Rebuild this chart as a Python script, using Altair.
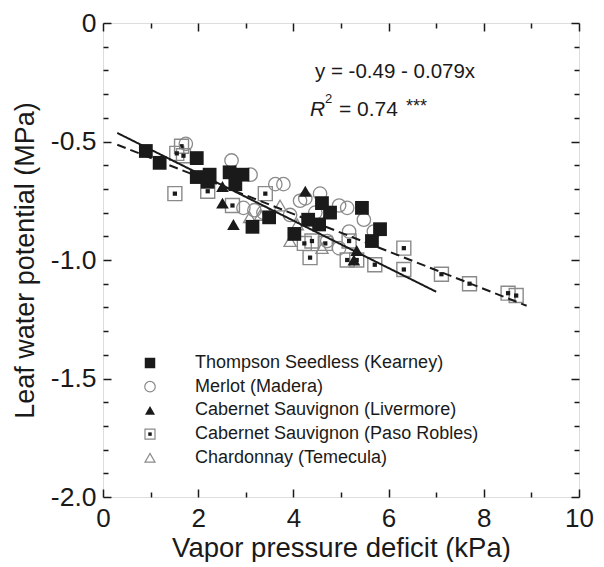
import altair as alt
import pandas as pd

FONT = "Liberation Sans"
INK = "#1a1a1a"
GRAY = "#8a8a8a"
W = 476
H = 474

series_names = [
    "Thompson Seedless (Kearney)",
    "Merlot (Madera)",
    "Cabernet Sauvignon (Livermore)",
    "Cabernet Sauvignon (Paso Robles)",
    "Chardonnay (Temecula)",
]

# Thompson Seedless (Kearney)
ts_vpd = [0.90, 1.19, 1.97, 1.97, 2.24, 2.20, 2.66, 2.93, 2.78, 3.14, 3.49, 4.02, 4.31, 4.54, 4.60, 4.77, 5.44, 5.65, 5.82]
ts_lwp = [-0.54, -0.59, -0.57, -0.65, -0.64, -0.67, -0.63, -0.64, -0.68, -0.86, -0.82, -0.89, -0.83, -0.85, -0.76, -0.80, -0.78, -0.92, -0.87]

# Merlot (Madera)
me_vpd = [1.74, 2.70, 3.10, 3.62, 3.79, 2.95, 3.18, 3.37, 4.14, 4.56, 4.25, 4.96, 5.13, 5.48, 4.46, 3.93, 5.17, 4.71, 4.96, 5.69]
me_lwp = [-0.51, -0.58, -0.64, -0.68, -0.68, -0.78, -0.79, -0.80, -0.75, -0.72, -0.74, -0.77, -0.78, -0.83, -0.80, -0.81, -0.88, -0.92, -0.95, -0.88]

# Cabernet Sauvignon (Livermore)
cl_vpd = [2.51, 2.51, 2.74, 4.25, 4.75, 5.33, 5.27]
cl_lwp = [-0.69, -0.76, -0.85, -0.71, -0.80, -0.96, -1.00]

# Cabernet Sauvignon (Paso Robles)
cp_vpd = [1.65, 1.55, 1.69, 1.51, 2.20, 2.72, 3.41, 4.23, 4.39, 4.67, 4.35, 5.17, 5.13, 5.33, 5.71, 6.32, 6.32, 7.11, 7.70, 8.51, 8.68]
cp_lwp = [-0.52, -0.55, -0.56, -0.72, -0.71, -0.77, -0.72, -0.93, -0.92, -0.93, -0.99, -0.92, -1.00, -1.00, -1.02, -1.04, -0.95, -1.06, -1.10, -1.14, -1.15]

# Chardonnay (Temecula)
ch_vpd = [3.08, 3.31, 3.72, 3.93, 4.60, 4.08]
ch_lwp = [-0.82, -0.81, -0.77, -0.92, -0.95, -0.85]

# regression lines
fit_names = ["solid", "dashed"]
fit_intercept = [-0.434, -0.49]
fit_slope = [-0.100, -0.079]
fit_xmin = [0.3, 0.3]
fit_xmax = [7.0, 8.9]

eq_line1 = "y = -0.49 - 0.079x"
eq_r = "R"
eq_sup = "2"
eq_val = "= 0.74"
eq_stars = "***"

x_label_values = [0, 2, 4, 6, 8, 10]
x_minor_values = [1, 3, 5, 7, 9]
y_label_values = [-2.0, -1.5, -1.0, -0.5, 0.0]
y_minor_values = [round(-2 + 0.1 * i, 1) for i in range(21) if i % 5 != 0]

rows = []
for name, xs_, ys_ in zip(series_names,
                          [ts_vpd, me_vpd, cl_vpd, cp_vpd, ch_vpd],
                          [ts_lwp, me_lwp, cl_lwp, cp_lwp, ch_lwp]):
    for a, b in zip(xs_, ys_):
        rows.append({"series": name, "vpd": a, "lwp": b})
df = pd.DataFrame(rows)

line_rows = []
for n, b0, b1, x0, x1 in zip(fit_names, fit_intercept, fit_slope, fit_xmin, fit_xmax):
    for xv in (x0, x1):
        line_rows.append({"fit": n, "vpd": xv, "lwp": b0 + b1 * xv})
lines_df = pd.DataFrame(line_rows)

legend_df = pd.DataFrame({"series": series_names, "idx": list(range(len(series_names)))})

xs = alt.Scale(domain=[0, 10], nice=False, zero=False)
ys = alt.Scale(domain=[-2, 0], nice=False, zero=False)

label_x_axis = alt.Axis(
    orient="bottom", values=x_label_values, ticks=False, domain=False, grid=False,
    labelFlush=False, labelOverlap=False,
    labelFont=FONT, labelFontSize=26, labelColor=INK, labelPadding=8,
    title="Vapor pressure deficit (kPa)", titleFont=FONT, titleFontSize=27.5,
    titleFontWeight="normal", titleColor=INK, titlePadding=3,
)
label_y_axis = alt.Axis(
    orient="left", values=y_label_values, ticks=False, domain=False, grid=False,
    labelFlush=False, labelOverlap=False,
    labelExpr="datum.value == 0 ? '0' : '-' + format(abs(datum.value), '.1f')",
    labelFont=FONT, labelFontSize=26.5, labelColor=INK, labelPadding=7,
    title="Leaf water potential (MPa)", titleFont=FONT, titleFontSize=27,
    titleFontWeight="normal", titleColor=INK, titlePadding=11,
)


def tick_axis(orient, vals, size, offset):
    return alt.Axis(orient=orient, values=vals, tickSize=size, labels=False,
                    domain=False, grid=False, title=None, offset=offset,
                    tickColor=INK, tickWidth=1.5)


axes_list = [
    (label_x_axis, label_y_axis),
    (tick_axis("top", x_label_values, 8, -H), tick_axis("right", y_label_values, 8, -W)),
    (tick_axis("top", x_minor_values, 5, -H), tick_axis("right", y_minor_values, 5, -W)),
    (tick_axis("bottom", x_label_values, 8, -H), tick_axis("left", y_label_values, 8, -W)),
    (tick_axis("bottom", x_minor_values, 5, -H), tick_axis("left", y_minor_values, 5, -W)),
]

base = alt.Chart(df)


def scatter(name, shape, filled, color, size, stroke_w, axes=None):
    xa, ya = axes if axes else (None, None)
    return base.transform_filter(alt.datum.series == name).mark_point(
        shape=shape, filled=filled, color=color, size=size, strokeWidth=stroke_w, opacity=1
    ).encode(
        x=alt.X("vpd:Q", scale=xs, axis=xa),
        y=alt.Y("lwp:Q", scale=ys, axis=ya),
    )


paso_outer = scatter(series_names[3], "square", False, GRAY, 195, 1.4, axes_list[0])
paso_inner = scatter(series_names[3], "square", True, INK, 18, 0, axes_list[1])
merlot = scatter(series_names[1], "circle", False, GRAY, 180, 1.3, axes_list[2])
chard = scatter(series_names[4], "triangle-up", False, GRAY, 150, 1.3, axes_list[3])
liver = scatter(series_names[2], "triangle-up", True, INK, 160, 0, axes_list[4])
thomp = scatter(series_names[0], "square", True, INK, 190, 0)

fit_lines = alt.Chart(lines_df).mark_line(color=INK, strokeWidth=2).encode(
    x=alt.X("vpd:Q", scale=xs, axis=None),
    y=alt.Y("lwp:Q", scale=ys, axis=None),
    detail="fit:N",
    strokeDash=alt.StrokeDash("fit:N", scale=alt.Scale(domain=fit_names, range=[[1, 0], [9, 5]]), legend=None),
)

# legend inside the plot
LEG_Y0 = 340
LEG_STEP = 23.7
leg_base = alt.Chart(legend_df).transform_calculate(ly=f"{LEG_Y0} + datum.idx * {LEG_STEP}")


def leg_symbol(name, shape, filled, color, size, stroke_w):
    return leg_base.transform_filter(alt.datum.series == name).mark_point(
        shape=shape, filled=filled, color=color, size=size, strokeWidth=stroke_w, opacity=1
    ).encode(x=alt.value(47), y=alt.Y("ly:Q", scale=None))


leg_syms = [
    leg_symbol(series_names[0], "square", True, INK, 110, 0),
    leg_symbol(series_names[1], "circle", False, GRAY, 110, 1.2),
    leg_symbol(series_names[2], "triangle-up", True, INK, 100, 0),
    leg_symbol(series_names[3], "square", False, GRAY, 100, 1.2),
    leg_symbol(series_names[3], "square", True, INK, 12, 0),
    leg_symbol(series_names[4], "triangle-up", False, GRAY, 100, 1.2),
]
leg_text = leg_base.mark_text(align="left", baseline="middle", font=FONT, fontSize=18, color=INK).encode(
    x=alt.value(92), y=alt.Y("ly:Q", scale=None), text="series:N"
)


def ann_text(txt, x, y, size, italic=False):
    return alt.Chart(pd.DataFrame({"t": [txt]})).mark_text(
        align="left", baseline="alphabetic", font=FONT, fontSize=size, color=INK,
        fontStyle="italic" if italic else "normal",
    ).encode(x=alt.value(x), y=alt.value(y), text="t:N")


anns = [
    ann_text(eq_line1, 212, 55, 20.5),
    ann_text(eq_r, 207, 93, 21, True),
    ann_text(eq_sup, 222, 80, 13),
    ann_text(eq_val, 236, 93, 21),
    ann_text(eq_stars, 303, 89, 18),
]

chart = alt.layer(
    paso_outer, paso_inner, merlot, chard, fit_lines, liver, thomp, *leg_syms, leg_text, *anns
).resolve_axis(x="independent", y="independent").properties(
    width=W, height=H, padding={"top": 2, "left": 3, "right": 0, "bottom": 0}
).configure_view(stroke=INK, strokeWidth=1.5).configure(background="white")

chart.save("out.html", embed_options={"renderer": "svg", "actions": False})
